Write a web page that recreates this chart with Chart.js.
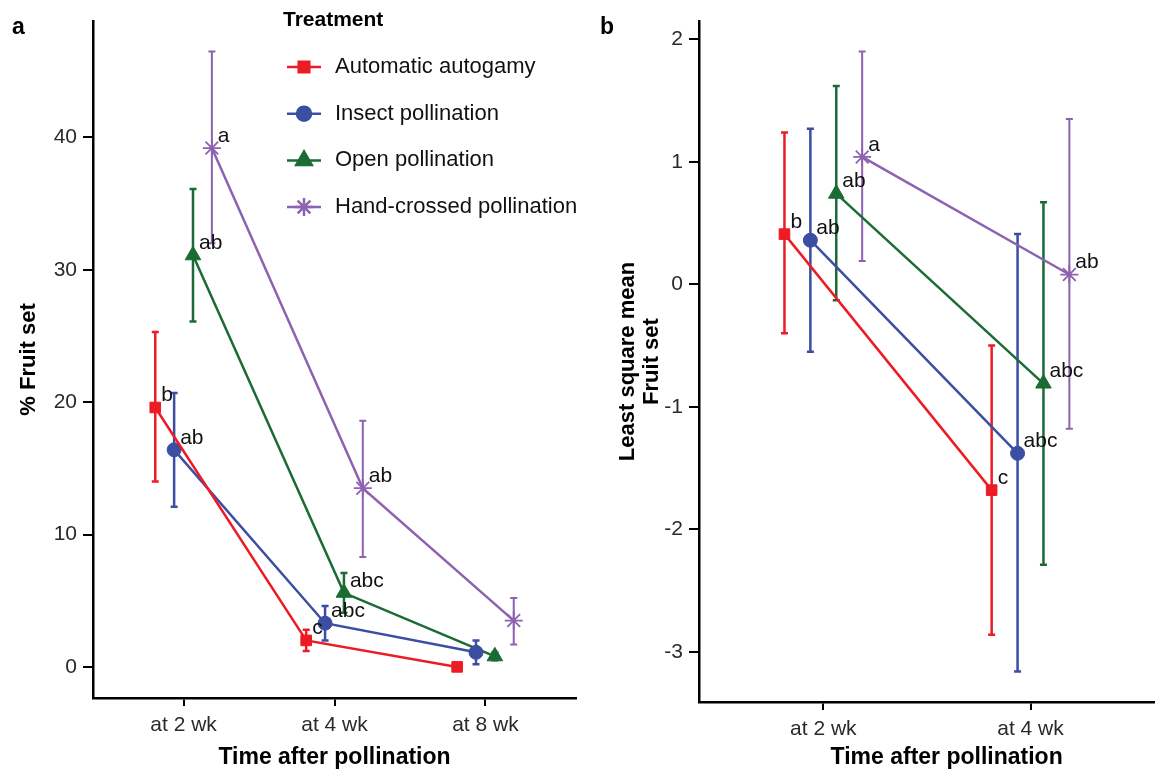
<!DOCTYPE html>
<html>
<head>
<meta charset="utf-8">
<script src="https://cdn.jsdelivr.net/npm/chart.js@4.4.1/dist/chart.umd.min.js"></script>
<style>
  html, body { margin: 0; padding: 0; background: #fff; overflow: hidden; }
  body { width: 1155px; height: 769px; position: relative; }
  #chartA { position: absolute; left: 0; top: 0; }
  #chartB { position: absolute; left: 590px; top: 0; }
</style>
</head>
<body>
<canvas id="chartA" width="590" height="769"></canvas>
<canvas id="chartB" width="615" height="769"></canvas>
<script>
// ---- data ----
const treatments = ['Automatic autogamy', 'Insect pollination', 'Open pollination', 'Hand-crossed pollination'];

// panel a: % fruit set
const categoriesA = ['at 2 wk', 'at 4 wk', 'at 8 wk'];
const yTicksA = [0, 10, 20, 30, 40];
const autoA = [19.6, 2.0, 0.0];
const autoErrA = [[14.0, 25.3], [1.2, 2.8], [0.0, 0.0]];
const autoLetA = ['b', 'c', ''];
const insectA = [16.4, 3.3, 1.1];
const insectErrA = [[12.1, 20.7], [2.0, 4.6], [0.2, 2.0]];
const insectLetA = ['ab', 'abc', ''];
const openA = [31.1, 5.6, 0.8];
const openErrA = [[26.1, 36.1], [4.1, 7.1], [0.5, 1.1]];
const openLetA = ['ab', 'abc', ''];
const handA = [39.2, 13.5, 3.5];
const handErrA = [[32.0, 46.5], [8.3, 18.6], [1.7, 5.2]];
const handLetA = ['a', 'ab', ''];

// panel b: least square mean fruit set
const categoriesB = ['at 2 wk', 'at 4 wk'];
const yTicksB = [-3, -2, -1, 0, 1, 2];
const autoB = [0.41, -1.68];
const autoErrB = [[-0.40, 1.24], [-2.86, -0.50]];
const autoLetB = ['b', 'c'];
const insectB = [0.36, -1.38];
const insectErrB = [[-0.55, 1.27], [-3.16, 0.41]];
const insectLetB = ['ab', 'abc'];
const openB = [0.74, -0.81];
const openErrB = [[-0.13, 1.62], [-2.29, 0.67]];
const openLetB = ['ab', 'abc'];
const handB = [1.04, 0.08];
const handErrB = [[0.19, 1.90], [-1.18, 1.35]];
const handLetB = ['a', 'ab'];

// ---- styling ----
const colors = ['#ec1c24', '#3b4ea2', '#1b6b35', '#8d62b0'];
const markers = ['rect', 'circle', 'triangle', 'star'];
const markerSize = [7.5, 7, 9, 9];
const dodge = [-0.1875, -0.0625, 0.0625, 0.1875];
const FONT = '"Liberation Sans", Arial, sans-serif';

function makeDatasets(values, errs, letters) {
  return values.map((vals, s) => ({
    label: treatments[s],
    data: vals.map((v, i) => ({ x: i + 1 + dodge[s], y: v, lo: errs[s][i][0], hi: errs[s][i][1], letter: letters[s][i] })),
    borderColor: colors[s],
    backgroundColor: colors[s],
    borderWidth: 2.5,
    pointStyle: markers[s],
    pointRadius: markerSize[s],
    pointBorderWidth: s === 3 ? 1.8 : 1,
    pointBorderColor: colors[s],
    pointBackgroundColor: colors[s],
    tension: 0,
    fill: false
  }));
}

const errorBars = {
  id: 'errorBars',
  beforeDatasetsDraw(chart) {
    const { ctx, scales: { x, y } } = chart;
    ctx.save();
    chart.data.datasets.forEach(ds => {
      ctx.strokeStyle = ds.borderColor;
      ctx.lineWidth = ds.pointStyle === 'star' ? 2 : 2.5;
      ds.data.forEach(p => {
        if (p.lo === p.hi) return;
        const px = x.getPixelForValue(p.x);
        const y1 = y.getPixelForValue(p.lo);
        const y2 = y.getPixelForValue(p.hi);
        ctx.beginPath();
        ctx.moveTo(px, y1); ctx.lineTo(px, y2);
        ctx.moveTo(px - 3.5, y1); ctx.lineTo(px + 3.5, y1);
        ctx.moveTo(px - 3.5, y2); ctx.lineTo(px + 3.5, y2);
        ctx.stroke();
      });
    });
    ctx.restore();
  },
  afterDatasetsDraw(chart) {
    const { ctx, scales: { x, y } } = chart;
    ctx.save();
    ctx.fillStyle = '#111';
    ctx.font = '21px ' + FONT;
    ctx.textAlign = 'left';
    ctx.textBaseline = 'middle';
    chart.data.datasets.forEach(ds => {
      ds.data.forEach(p => {
        if (!p.letter) return;
        ctx.fillText(p.letter, x.getPixelForValue(p.x) + 6, y.getPixelForValue(p.y) - 12);
      });
    });
    ctx.restore();
  }
};

function panelLabel(text) {
  return {
    id: 'panelLabel',
    afterDraw(chart) {
      const ctx = chart.ctx;
      ctx.save();
      ctx.fillStyle = '#000';
      ctx.font = 'bold 23px ' + FONT;
      ctx.textAlign = 'left';
      ctx.textBaseline = 'middle';
      ctx.fillText(text, chart.canvas.id === 'chartA' ? 12 : 10, 28);
      ctx.restore();
    }
  };
}

const treatmentLegend = {
  id: 'treatmentLegend',
  afterDraw(chart) {
    const ctx = chart.ctx;
    ctx.save();
    ctx.fillStyle = '#000';
    ctx.font = 'bold 21px ' + FONT;
    ctx.textAlign = 'left';
    ctx.textBaseline = 'middle';
    ctx.fillText('Treatment', 283, 20);
    ctx.font = '22px ' + FONT;
    treatments.forEach((t, s) => {
      const cy = 67 + s * 46.7;
      ctx.strokeStyle = colors[s];
      ctx.lineWidth = 2.5;
      ctx.beginPath();
      ctx.moveTo(287, cy); ctx.lineTo(321, cy);
      ctx.stroke();
      ctx.fillStyle = colors[s];
      Chart.helpers.drawPoint(ctx, {
        pointStyle: markers[s], radius: markerSize[s], borderWidth: s === 3 ? 1.8 : 1
      }, 304, cy);
      ctx.fillStyle = '#111';
      ctx.fillText(t, 335, cy);
    });
    ctx.restore();
  }
};

function axisOptions(cfg) {
  return {
    x: {
      type: 'linear',
      min: cfg.xMin, max: cfg.xMax,
      afterBuildTicks: s => { s.ticks = cfg.categories.map((c, i) => ({ value: i + 1 })); },
      afterFit: s => { s.height = cfg.xHeight; },
      ticks: {
        callback: v => cfg.categories[v - 1],
        color: '#2a2a2a', font: { size: 21, family: FONT }, padding: 7, maxRotation: 0
      },
      grid: { drawOnChartArea: false, drawTicks: true, tickLength: 8, color: '#000', lineWidth: 2 },
      border: { display: true, color: '#000', width: 2.5 },
      title: {
        display: true, text: 'Time after pollination', color: '#000',
        font: { size: 23, weight: 'bold', family: FONT, lineHeight: 1.0 }, padding: { top: 0, bottom: 0 }
      }
    },
    y: {
      type: 'linear',
      min: cfg.yMin, max: cfg.yMax,
      afterBuildTicks: s => { s.ticks = cfg.yTicks.map(v => ({ value: v })); },
      afterFit: s => { s.width = cfg.yWidth; },
      ticks: {
        color: '#2a2a2a', font: { size: 21, family: FONT }, padding: 6
      },
      grid: { drawOnChartArea: false, drawTicks: true, tickLength: 10, color: '#000', lineWidth: 2 },
      border: { display: true, color: '#000', width: 2.5 },
      title: {
        display: true, text: cfg.yTitle, color: '#000',
        font: { size: 22, weight: 'bold', family: FONT, lineHeight: 1.1 }, padding: { top: cfg.yTitlePad, bottom: 0 }
      }
    }
  };
}

const baseOptions = {
  responsive: false,
  animation: false,
  devicePixelRatio: 1,
  plugins: { legend: { display: false }, tooltip: { enabled: false } }
};

new Chart(document.getElementById('chartA'), {
  type: 'line',
  data: {
    datasets: makeDatasets(
      [autoA, insectA, openA, handA],
      [autoErrA, insectErrA, openErrA, handErrA],
      [autoLetA, insectLetA, openLetA, handLetA])
  },
  options: Object.assign({}, baseOptions, {
    layout: { padding: { left: 0, top: 21, right: 14, bottom: 0 } },
    scales: axisOptions({
      categories: categoriesA, xMin: 0.4, xMax: 3.6, xHeight: 71,
      yMin: -2.35, yMax: 48.8, yTicks: yTicksA, yWidth: 93,
      yTitle: '% Fruit set', yTitlePad: 17
    })
  }),
  plugins: [errorBars, treatmentLegend, panelLabel('a')]
});

new Chart(document.getElementById('chartB'), {
  type: 'line',
  data: {
    datasets: makeDatasets(
      [autoB, insectB, openB, handB],
      [autoErrB, insectErrB, openErrB, handErrB],
      [autoLetB, insectLetB, openLetB, handLetB])
  },
  options: Object.assign({}, baseOptions, {
    layout: { padding: { left: 0, top: 21, right: 0, bottom: 0 } },
    scales: axisOptions({
      categories: categoriesB, xMin: 0.4, xMax: 2.79, xHeight: 67,
      yMin: -3.41, yMax: 2.15, yTicks: yTicksB, yWidth: 109,
      yTitle: ['Least square mean', 'Fruit set'], yTitlePad: 26
    })
  }),
  plugins: [errorBars, panelLabel('b')]
});
</script>
</body>
</html>
